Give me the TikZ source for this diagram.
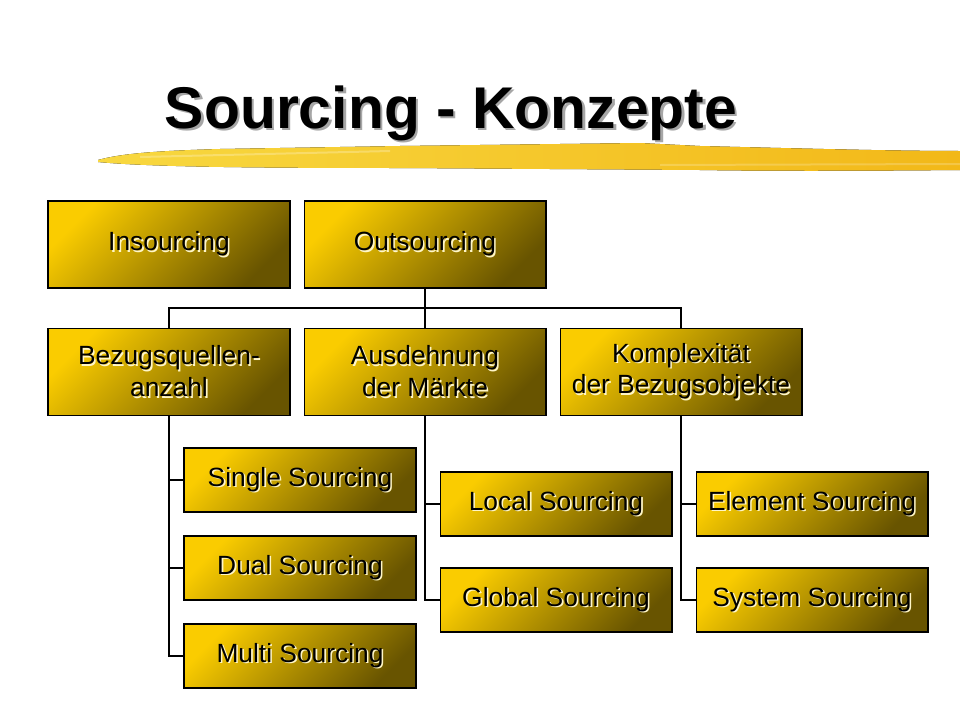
\documentclass[tikz,border=0pt]{standalone}
\usepackage{fontspec}
\setmainfont{Liberation Sans}
\usepackage{tikz}
\usepackage{color}
\definecolor{goldlight}{RGB}{250, 204, 0}
\definecolor{golddark}{RGB}{104, 84, 0}
\definecolor{brushlight}{RGB}{248, 216, 64}
\definecolor{brushdark}{RGB}{242, 184, 24}
\definecolor{embcream}{RGB}{255, 246, 200}

\newcommand{\embtxt}[1]{\leavevmode\rlap{\kern0.9pt\raisebox{-0.9pt}{\color{embcream}#1}}#1}
\newcommand{\titletxt}[1]{\leavevmode\rlap{\kern1.4pt\raisebox{-1.4pt}{\color{black!35}#1}}#1}

\tikzset{
    bigbox/.style={draw=black,line width=0.6pt,rectangle,inner sep=0pt,
        minimum width=4.84cm,minimum height=1.74cm,
        left color=goldlight,right color=golddark,shading angle=45,
        align=center,font=\fontsize{15}{18}\selectfont},
    smallbox/.style={bigbox,minimum width=4.64cm,minimum height=1.28cm},
    link/.style={draw=black,line width=0.6pt}
}

\begin{document}
\begin{tikzpicture}[x=0.02cm,y=-0.02cm]
        \useasboundingbox (0,0) rectangle (960,720);

        % brush stroke under the title
        \fill[left color=brushlight,right color=brushdark]
            (98,160) .. controls (120,154) and (150,151) .. (220,149)
            -- (400,146) -- (640,143) -- (700,146) .. controls (820,149) and (900,151) .. (960,151)
            -- (960,170) .. controls (850,171) and (760,171) .. (700,170)
            -- (400,168) .. controls (260,168) and (150,167) .. (98,162) -- cycle;
        \fill[white,opacity=0.25]
            (140,156) -- (390,150) -- (390,152) -- (140,158) -- cycle;
        \fill[white,opacity=0.2]
            (660,164) -- (960,163) -- (960,165) -- (660,166) -- cycle;

        \node[font=\bfseries\fontsize{33.5}{40}\selectfont,anchor=base] (title) at (451,128) {\titletxt{Sourcing - Konzepte}};

        \coordinate (c1) at (169,244.5);
        \coordinate (c2) at (425,244.5);
        \coordinate (c3) at (169,372);
        \coordinate (c4) at (425,372);
        \coordinate (c5) at (681,372);
        \coordinate (bus) at (425,308);

        \node[bigbox] (insrc) at (c1) {\embtxt{Insourcing}};
        \node[bigbox] (outsrc) at (c2) {\embtxt{Outsourcing}};
        \node[bigbox] (bezug) at (c3) {\embtxt{Bezugsquellen-}\\\embtxt{anzahl}};
        \node[bigbox] (ausd) at (c4) {\embtxt{Ausdehnung}\\\embtxt{der Märkte}};
        \node[bigbox] (kompl) at (c5) {\embtxt{Komplexität}\\\embtxt{der Bezugsobjekte}};

        \node[smallbox] (single) at (300,480) {\embtxt{Single Sourcing}};
        \node[smallbox] (dual) at (300,568) {\embtxt{Dual Sourcing}};
        \node[smallbox] (multi) at (300,656) {\embtxt{Multi Sourcing}};
        \node[smallbox] (local) at (556,504) {\embtxt{Local Sourcing}};
        \node[smallbox] (global) at (556,600) {\embtxt{Global Sourcing}};
        \node[smallbox] (element) at (812,504) {\embtxt{Element Sourcing}};
        \node[smallbox] (system) at (812,600) {\embtxt{System Sourcing}};

        \draw[link] (outsrc.south) -- (ausd.north);
        \draw[link] (bezug.north) |- (bus) -| (kompl.north);

        \draw[link] (bezug.south) |- (multi.west);
        \draw[link] (bezug.south) |- (single.west);
        \draw[link] (bezug.south) |- (dual.west);
        \draw[link] (ausd.south) |- (global.west);
        \draw[link] (ausd.south) |- (local.west);
        \draw[link] (kompl.south) |- (system.west);
        \draw[link] (kompl.south) |- (element.west);
    \end{tikzpicture}
\end{document}
